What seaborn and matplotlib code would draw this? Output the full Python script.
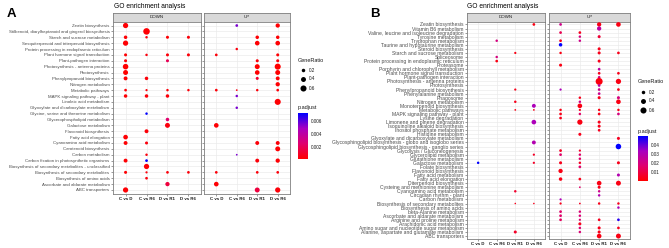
import numpy as np
import pandas as pd
import matplotlib
matplotlib.use("Agg")
import matplotlib.pyplot as plt
import seaborn as sns
from matplotlib.colors import LinearSegmentedColormap, Normalize
from matplotlib.cm import ScalarMappable

plt.rcParams["font.family"] = ["Liberation Sans", "DejaVu Sans"]

comparisons = ["C vs D", "C vs R6", "D vs R1", "D vs R6"]

a_pathways = [
    "Zeatin biosynthesis",
    "Stilbenoid, diarylheptanoid and gingerol biosynthesis",
    "Starch and sucrose metabolism",
    "Sesquiterpenoid and triterpenoid biosynthesis",
    "Protein processing in endoplasmic reticulum",
    "Plant hormone signal transduction",
    "Plant-pathogen interaction",
    "Photosynthesis - antenna proteins",
    "Photosynthesis",
    "Phenylpropanoid biosynthesis",
    "Nitrogen metabolism",
    "Metabolic pathways",
    "MAPK signaling pathway - plant",
    "Linoleic acid metabolism",
    "Glyoxylate and dicarboxylate metabolism",
    "Glycine, serine and threonine metabolism",
    "Glycerophospholipid metabolism",
    "Galactose metabolism",
    "Flavonoid biosynthesis",
    "Fatty acid elongation",
    "Cyanoamino acid metabolism",
    "Carotenoid biosynthesis",
    "Carbon metabolism",
    "Carbon fixation in photosynthetic organisms",
    "Biosynthesis of secondary metabolites - unclassified",
    "Biosynthesis of secondary metabolites",
    "Biosynthesis of amino acids",
    "Ascorbate and aldarate metabolism",
    "ABC transporters",
]

# (pathway, comparison, GeneRatio, p.adjust)
a_down = [
    ("Zeatin biosynthesis", "C vs D", 0.45, 0.0003),
    ("Stilbenoid, diarylheptanoid and gingerol biosynthesis", "C vs R6", 0.7, 0.0003),
    ("Starch and sucrose metabolism", "C vs D", 0.2, 0.0003),
    ("Starch and sucrose metabolism", "C vs R6", 0.1, 0.0005),
    ("Starch and sucrose metabolism", "D vs R1", 0.15, 0.0003),
    ("Starch and sucrose metabolism", "D vs R6", 0.15, 0.0004),
    ("Sesquiterpenoid and triterpenoid biosynthesis", "C vs D", 0.45, 0.0003),
    ("Plant hormone signal transduction", "C vs D", 0.15, 0.0003),
    ("Plant hormone signal transduction", "C vs R6", 0.1, 0.0005),
    ("Plant hormone signal transduction", "D vs R1", 0.15, 0.0004),
    ("Plant hormone signal transduction", "D vs R6", 0.15, 0.0004),
    ("Plant-pathogen interaction", "C vs D", 0.15, 0.0003),
    ("Plant-pathogen interaction", "D vs R1", 0.15, 0.002),
    ("Photosynthesis - antenna proteins", "C vs D", 0.5, 0.0002),
    ("Photosynthesis", "C vs D", 0.4, 0.0002),
    ("Phenylpropanoid biosynthesis", "C vs D", 0.25, 0.0003),
    ("Phenylpropanoid biosynthesis", "C vs R6", 0.2, 0.0004),
    ("Metabolic pathways", "C vs D", 0.12, 0.0003),
    ("Metabolic pathways", "C vs R6", 0.08, 0.0004),
    ("Metabolic pathways", "D vs R1", 0.1, 0.0004),
    ("Metabolic pathways", "D vs R6", 0.1, 0.0004),
    ("MAPK signaling pathway - plant", "C vs D", 0.2, 0.0003),
    ("MAPK signaling pathway - plant", "C vs R6", 0.2, 0.0004),
    ("MAPK signaling pathway - plant", "D vs R1", 0.2, 0.0004),
    ("Glycine, serine and threonine metabolism", "C vs R6", 0.1, 0.0072),
    ("Glycerophospholipid metabolism", "D vs R1", 0.2, 0.0025),
    ("Galactose metabolism", "D vs R1", 0.4, 0.0005),
    ("Flavonoid biosynthesis", "C vs R6", 0.25, 0.0004),
    ("Fatty acid elongation", "C vs D", 0.35, 0.0003),
    ("Cyanoamino acid metabolism", "C vs D", 0.25, 0.0003),
    ("Cyanoamino acid metabolism", "C vs R6", 0.15, 0.0005),
    ("Carbon metabolism", "C vs R6", 0.1, 0.0005),
    ("Carbon fixation in photosynthetic organisms", "C vs D", 0.25, 0.0003),
    ("Carbon fixation in photosynthetic organisms", "C vs R6", 0.12, 0.0072),
    ("Biosynthesis of secondary metabolites - unclassified", "C vs R6", 0.45, 0.0003),
    ("Biosynthesis of secondary metabolites", "C vs D", 0.15, 0.0003),
    ("Biosynthesis of secondary metabolites", "C vs R6", 0.08, 0.0005),
    ("Biosynthesis of secondary metabolites", "D vs R1", 0.12, 0.0004),
    ("Biosynthesis of secondary metabolites", "D vs R6", 0.12, 0.0004),
    ("Biosynthesis of amino acids", "C vs R6", 0.12, 0.0005),
    ("Ascorbate and aldarate metabolism", "D vs R1", 0.3, 0.0015),
    ("ABC transporters", "C vs D", 0.45, 0.0003),
]

a_up = [
    ("Zeatin biosynthesis", "C vs R6", 0.12, 0.0055),
    ("Zeatin biosynthesis", "D vs R6", 0.3, 0.0003),
    ("Starch and sucrose metabolism", "D vs R1", 0.2, 0.0003),
    ("Starch and sucrose metabolism", "D vs R6", 0.2, 0.0003),
    ("Sesquiterpenoid and triterpenoid biosynthesis", "D vs R1", 0.35, 0.0003),
    ("Sesquiterpenoid and triterpenoid biosynthesis", "D vs R6", 0.35, 0.0003),
    ("Protein processing in endoplasmic reticulum", "C vs R6", 0.1, 0.0005),
    ("Plant hormone signal transduction", "C vs D", 0.12, 0.0004),
    ("Plant hormone signal transduction", "D vs R6", 0.15, 0.0003),
    ("Plant-pathogen interaction", "D vs R1", 0.15, 0.0004),
    ("Plant-pathogen interaction", "D vs R6", 0.15, 0.0004),
    ("Photosynthesis - antenna proteins", "D vs R1", 0.4, 0.0002),
    ("Photosynthesis - antenna proteins", "D vs R6", 0.6, 0.0002),
    ("Photosynthesis", "D vs R1", 0.35, 0.0002),
    ("Photosynthesis", "D vs R6", 0.4, 0.0002),
    ("Phenylpropanoid biosynthesis", "D vs R1", 0.15, 0.0012),
    ("Phenylpropanoid biosynthesis", "D vs R6", 0.25, 0.0003),
    ("Nitrogen metabolism", "D vs R6", 0.3, 0.0003),
    ("Metabolic pathways", "C vs D", 0.12, 0.0004),
    ("Metabolic pathways", "C vs R6", 0.05, 0.0006),
    ("Metabolic pathways", "D vs R1", 0.1, 0.0004),
    ("Metabolic pathways", "D vs R6", 0.12, 0.0004),
    ("MAPK signaling pathway - plant", "C vs R6", 0.1, 0.0055),
    ("Linoleic acid metabolism", "D vs R6", 0.6, 0.0003),
    ("Glyoxylate and dicarboxylate metabolism", "C vs R6", 0.1, 0.0055),
    ("Galactose metabolism", "C vs D", 0.35, 0.0003),
    ("Cyanoamino acid metabolism", "D vs R1", 0.25, 0.0004),
    ("Cyanoamino acid metabolism", "D vs R6", 0.25, 0.0004),
    ("Carotenoid biosynthesis", "D vs R6", 0.4, 0.0003),
    ("Carbon metabolism", "C vs R6", 0.05, 0.0055),
    ("Carbon fixation in photosynthetic organisms", "D vs R1", 0.25, 0.0004),
    ("Carbon fixation in photosynthetic organisms", "D vs R6", 0.3, 0.0003),
    ("Biosynthesis of secondary metabolites", "C vs D", 0.12, 0.0004),
    ("Biosynthesis of secondary metabolites", "D vs R1", 0.12, 0.0004),
    ("Biosynthesis of secondary metabolites", "D vs R6", 0.12, 0.0004),
    ("Ascorbate and aldarate metabolism", "C vs D", 0.35, 0.0003),
    ("ABC transporters", "D vs R1", 0.4, 0.0015),
    ("ABC transporters", "D vs R6", 0.45, 0.0004),
]

b_pathways = [
    "Zeatin biosynthesis",
    "Vitamin B6 metabolism",
    "Valine, leucine and isoleucine degradation",
    "Tyrosine metabolism",
    "Tryptophan metabolism",
    "Taurine and hypotaurine metabolism",
    "Steroid biosynthesis",
    "Starch and sucrose metabolism",
    "Spliceosome",
    "Protein processing in endoplasmic reticulum",
    "Proteasome",
    "Porphyrin and chlorophyll metabolism",
    "Plant hormone signal transduction",
    "Plant-pathogen interaction",
    "Photosynthesis - antenna proteins",
    "Photosynthesis",
    "Phenylpropanoid biosynthesis",
    "Phenylalanine metabolism",
    "Phagosome",
    "Nitrogen metabolism",
    "Monoterpenoid biosynthesis",
    "Metabolic pathways",
    "MAPK signaling pathway - plant",
    "Lysine degradation",
    "Limonene and pinene degradation",
    "Isoquinoline alkaloid biosynthesis",
    "Inositol phosphate metabolism",
    "Histidine metabolism",
    "Glyoxylate and dicarboxylate metabolism",
    "Glycosphingolipid biosynthesis - globo and isoglobo series",
    "Glycosphingolipid biosynthesis - ganglio series",
    "Glycolysis / Gluconeogenesis",
    "Glycerolipid metabolism",
    "Glutathione metabolism",
    "Galactose metabolism",
    "Folate biosynthesis",
    "Flavonoid biosynthesis",
    "Fatty acid metabolism",
    "Fatty acid elongation",
    "Diterpenoid biosynthesis",
    "Cysteine and methionine metabolism",
    "Cyanoamino acid metabolism",
    "Circadian rhythm - plant",
    "Carbon metabolism",
    "Biosynthesis of secondary metabolites",
    "Biosynthesis of amino acids",
    "beta-Alanine metabolism",
    "Ascorbate and aldarate metabolism",
    "Arginine and proline metabolism",
    "Arachidonic acid metabolism",
    "Amino sugar and nucleotide sugar metabolism",
    "Alanine, aspartate and glutamate metabolism",
    "ABC transporters",
]

b_down = [
    ("Zeatin biosynthesis", "D vs R6", 0.12, 0.003),
    ("Tryptophan metabolism", "C vs R6", 0.1, 0.02),
    ("Starch and sucrose metabolism", "D vs R1", 0.08, 0.003),
    ("Spliceosome", "C vs R6", 0.1, 0.02),
    ("Protein processing in endoplasmic reticulum", "C vs R6", 0.12, 0.003),
    ("Phenylpropanoid biosynthesis", "D vs R1", 0.08, 0.004),
    ("Nitrogen metabolism", "D vs R1", 0.1, 0.004),
    ("Monoterpenoid biosynthesis", "D vs R6", 0.25, 0.032),
    ("Metabolic pathways", "D vs R1", 0.05, 0.003),
    ("Metabolic pathways", "D vs R6", 0.05, 0.003),
    ("Limonene and pinene degradation", "D vs R6", 0.35, 0.032),
    ("Glycosphingolipid biosynthesis - globo and isoglobo series", "D vs R6", 0.25, 0.03),
    ("Glycerolipid metabolism", "D vs R6", 0.08, 0.006),
    ("Galactose metabolism", "C vs D", 0.1, 0.05),
    ("Galactose metabolism", "D vs R6", 0.08, 0.006),
    ("Cyanoamino acid metabolism", "D vs R1", 0.1, 0.007),
    ("Biosynthesis of secondary metabolites", "D vs R1", 0.04, 0.004),
    ("Biosynthesis of secondary metabolites", "D vs R6", 0.04, 0.004),
    ("Alanine, aspartate and glutamate metabolism", "D vs R1", 0.15, 0.006),
]

b_up = [
    ("Zeatin biosynthesis", "C vs D", 0.12, 0.022),
    ("Valine, leucine and isoleucine degradation", "C vs D", 0.12, 0.012),
    ("Tryptophan metabolism", "C vs D", 0.12, 0.004),
    ("Taurine and hypotaurine metabolism", "C vs D", 0.2, 0.05),
    ("Starch and sucrose metabolism", "C vs D", 0.1, 0.003),
    ("Proteasome", "C vs D", 0.15, 0.003),
    ("Phenylpropanoid biosynthesis", "C vs D", 0.08, 0.032),
    ("Metabolic pathways", "C vs D", 0.1, 0.003),
    ("MAPK signaling pathway - plant", "C vs D", 0.12, 0.004),
    ("Lysine degradation", "C vs D", 0.12, 0.004),
    ("Glycolysis / Gluconeogenesis", "C vs D", 0.12, 0.005),
    ("Glycerolipid metabolism", "C vs D", 0.12, 0.016),
    ("Galactose metabolism", "C vs D", 0.15, 0.004),
    ("Flavonoid biosynthesis", "C vs D", 0.3, 0.003),
    ("Fatty acid elongation", "C vs D", 0.2, 0.003),
    ("Carbon metabolism", "C vs D", 0.08, 0.032),
    ("Biosynthesis of secondary metabolites", "C vs D", 0.08, 0.004),
    ("beta-Alanine metabolism", "C vs D", 0.12, 0.016),
    ("Ascorbate and aldarate metabolism", "C vs D", 0.12, 0.016),
    ("Arginine and proline metabolism", "C vs D", 0.12, 0.014),
    ("Valine, leucine and isoleucine degradation", "C vs R6", 0.12, 0.004),
    ("Tyrosine metabolism", "C vs R6", 0.1, 0.02),
    ("Tryptophan metabolism", "C vs R6", 0.1, 0.022),
    ("Phagosome", "C vs R6", 0.1, 0.004),
    ("Nitrogen metabolism", "C vs R6", 0.1, 0.022),
    ("Monoterpenoid biosynthesis", "C vs R6", 0.35, 0.003),
    ("Metabolic pathways", "C vs R6", 0.08, 0.004),
    ("MAPK signaling pathway - plant", "C vs R6", 0.1, 0.016),
    ("Limonene and pinene degradation", "C vs R6", 0.45, 0.003),
    ("Histidine metabolism", "C vs R6", 0.15, 0.004),
    ("Glycolysis / Gluconeogenesis", "C vs R6", 0.08, 0.006),
    ("Glycerolipid metabolism", "C vs R6", 0.1, 0.016),
    ("Glutathione metabolism", "C vs R6", 0.1, 0.016),
    ("Galactose metabolism", "C vs R6", 0.1, 0.005),
    ("Folate biosynthesis", "C vs R6", 0.12, 0.016),
    ("Fatty acid elongation", "C vs R6", 0.12, 0.004),
    ("Cysteine and methionine metabolism", "C vs R6", 0.05, 0.016),
    ("Biosynthesis of secondary metabolites", "C vs R6", 0.05, 0.005),
    ("beta-Alanine metabolism", "C vs R6", 0.1, 0.018),
    ("Ascorbate and aldarate metabolism", "C vs R6", 0.1, 0.018),
    ("Arginine and proline metabolism", "C vs R6", 0.08, 0.018),
    ("Arachidonic acid metabolism", "C vs R6", 0.15, 0.004),
    ("Amino sugar and nucleotide sugar metabolism", "C vs R6", 0.1, 0.018),
    ("Alanine, aspartate and glutamate metabolism", "C vs R6", 0.1, 0.018),
    ("Zeatin biosynthesis", "D vs R1", 0.3, 0.003),
    ("Vitamin B6 metabolism", "D vs R1", 0.3, 0.027),
    ("Tyrosine metabolism", "D vs R1", 0.15, 0.008),
    ("Steroid biosynthesis", "D vs R1", 0.15, 0.004),
    ("Starch and sucrose metabolism", "D vs R1", 0.15, 0.004),
    ("Protein processing in endoplasmic reticulum", "D vs R1", 0.15, 0.004),
    ("Porphyrin and chlorophyll metabolism", "D vs R1", 0.12, 0.027),
    ("Plant hormone signal transduction", "D vs R1", 0.12, 0.004),
    ("Plant-pathogen interaction", "D vs R1", 0.12, 0.02),
    ("Photosynthesis - antenna proteins", "D vs R1", 0.8, 0.002),
    ("Photosynthesis", "D vs R1", 0.12, 0.027),
    ("Phenylpropanoid biosynthesis", "D vs R1", 0.12, 0.022),
    ("Phenylalanine metabolism", "D vs R1", 0.12, 0.024),
    ("Phagosome", "D vs R1", 0.15, 0.004),
    ("Metabolic pathways", "D vs R1", 0.1, 0.003),
    ("MAPK signaling pathway - plant", "D vs R1", 0.12, 0.004),
    ("Limonene and pinene degradation", "D vs R1", 0.15, 0.004),
    ("Isoquinoline alkaloid biosynthesis", "D vs R1", 0.15, 0.004),
    ("Inositol phosphate metabolism", "D vs R1", 0.12, 0.005),
    ("Diterpenoid biosynthesis", "D vs R1", 0.35, 0.003),
    ("Cysteine and methionine metabolism", "D vs R1", 0.15, 0.004),
    ("Cyanoamino acid metabolism", "D vs R1", 0.1, 0.022),
    ("Circadian rhythm - plant", "D vs R1", 0.1, 0.03),
    ("Biosynthesis of secondary metabolites", "D vs R1", 0.1, 0.004),
    ("Arginine and proline metabolism", "D vs R1", 0.12, 0.005),
    ("Amino sugar and nucleotide sugar metabolism", "D vs R1", 0.15, 0.004),
    ("Alanine, aspartate and glutamate metabolism", "D vs R1", 0.15, 0.004),
    ("ABC transporters", "D vs R1", 0.35, 0.003),
    ("Zeatin biosynthesis", "D vs R6", 0.35, 0.003),
    ("Starch and sucrose metabolism", "D vs R6", 0.12, 0.004),
    ("Plant hormone signal transduction", "D vs R6", 0.12, 0.004),
    ("Photosynthesis - antenna proteins", "D vs R6", 0.45, 0.003),
    ("Phenylpropanoid biosynthesis", "D vs R6", 0.12, 0.004),
    ("Phagosome", "D vs R6", 0.15, 0.02),
    ("Nitrogen metabolism", "D vs R6", 0.35, 0.003),
    ("Metabolic pathways", "D vs R6", 0.1, 0.003),
    ("MAPK signaling pathway - plant", "D vs R6", 0.12, 0.02),
    ("Glyoxylate and dicarboxylate metabolism", "D vs R6", 0.15, 0.005),
    ("Glycosphingolipid biosynthesis - ganglio series", "D vs R6", 0.5, 0.05),
    ("Galactose metabolism", "D vs R6", 0.15, 0.004),
    ("Fatty acid metabolism", "D vs R6", 0.15, 0.03),
    ("Diterpenoid biosynthesis", "D vs R6", 0.4, 0.003),
    ("Biosynthesis of secondary metabolites", "D vs R6", 0.1, 0.004),
    ("Biosynthesis of amino acids", "D vs R6", 0.1, 0.032),
    ("Arginine and proline metabolism", "D vs R6", 0.12, 0.046),
    ("Amino sugar and nucleotide sugar metabolism", "D vs R6", 0.12, 0.004),
    ("ABC transporters", "D vs R6", 0.4, 0.003),
]

W, H = 669, 248
fig = plt.figure(figsize=(W / 100, H / 100), dpi=100)
cmap = LinearSegmentedColormap.from_list("padj", ["#FF0000", "#E0006E", "#A800C0", "#0000FF"])
SIZE_K = 31.75  # marker area per unit GeneRatio


def box(x0, y0, x1, y1):
    return [x0 / W, 1 - y1 / H, (x1 - x0) / W, (y1 - y0) / H]


def to_df(rows, pathways):
    df = pd.DataFrame(rows, columns=["pathway", "comparison", "GeneRatio", "p.adjust"])
    df["x"] = pd.Categorical(df["comparison"], categories=comparisons).codes
    df["y"] = pd.Categorical(df["pathway"], categories=pathways).codes
    return df


def facet(rows, pathways, name, x0, x1, y_top, y_bot, norm, ylab_size, show_y):
    strip = fig.add_axes(box(x0, y_top - 9, x1, y_top))
    strip.set_facecolor("#D9D9D9")
    strip.set_xticks([]); strip.set_yticks([])
    for s in strip.spines.values():
        s.set_color("#7F7F7F"); s.set_linewidth(0.6)
    strip.text(0.5, 0.5, name, ha="center", va="center", fontsize=3.2, color="#1A1A1A")

    ax = fig.add_axes(box(x0, y_top, x1, y_bot))
    df = to_df(rows, pathways)
    sns.scatterplot(data=df, x="x", y="y", hue="p.adjust", size="GeneRatio",
                    palette=cmap, hue_norm=norm, sizes=(0, SIZE_K * 0.8), size_norm=(0, 0.8),
                    legend=False, ax=ax, linewidth=0, zorder=3)
    n = len(pathways)
    ax.set_xlim(-0.6, 3.6)
    ax.set_ylim(n - 0.4, -0.6)
    ax.set_xticks(range(4))
    ax.set_xticklabels(comparisons, fontsize=3.2, color="#1A1A1A", fontweight="bold")
    ax.set_yticks(range(n))
    if show_y:
        ax.set_yticklabels(pathways, fontsize=ylab_size, color="#4D4D4D")
    else:
        ax.set_yticklabels([])
    ax.set_xlabel(""); ax.set_ylabel("")
    ax.tick_params(length=1.5, width=0.4, color="#4D4D4D", pad=1)
    ax.grid(True, color="#EBEBEB", lw=0.5)
    ax.set_axisbelow(True)
    for s in ax.spines.values():
        s.set_color("#7F7F7F"); s.set_linewidth(0.6)
    return ax


def legends(x, y_size, y_col, col_bot, norm, ticks, tick_fmt):
    fig.text(x / W, 1 - y_size / H, "GeneRatio", fontsize=4.0, color="#1A1A1A", va="center")
    for i, v in enumerate([0.2, 0.4, 0.6]):
        lax_y = y_size + 10 + i * 9
        lax = fig.add_axes(box(x + 1, lax_y - 4, x + 9, lax_y + 4))
        lax.axis("off")
        lax.scatter([0], [0], s=SIZE_K * v, color="black", linewidths=0)
        lax.set_xlim(-1, 1); lax.set_ylim(-1, 1)
        fig.text((x + 11) / W, 1 - lax_y / H, f"{v}", fontsize=3.3, color="#1A1A1A", va="center")
    fig.text(x / W, 1 - y_col / H, "p.adjust", fontsize=4.0, color="#1A1A1A", va="center")
    cax = fig.add_axes(box(x, y_col + 5, x + 10, col_bot))
    cb = fig.colorbar(ScalarMappable(norm=norm, cmap=cmap), cax=cax)
    cb.outline.set_visible(False)
    cb.set_ticks(ticks)
    cb.set_ticklabels([tick_fmt.format(t) for t in ticks])
    cax.tick_params(labelsize=3.3, length=0, pad=2, labelcolor="#1A1A1A")


# panel A
norm_a = Normalize(0.0002, 0.0072)
facet(a_down, a_pathways, "DOWN", 113, 201, 22, 193.5, norm_a, 3.2, True)
facet(a_up, a_pathways, "UP", 204, 290, 22, 193.5, norm_a, 3.2, False)
legends(298, 60, 108, 159, norm_a, [0.002, 0.004, 0.006], "{:.3f}")
fig.text(114 / W, 1 - 6 / H, "GO enrichment analysis", fontsize=4.8, va="center")
fig.text(7 / W, 1 - 14 / H, "A", fontsize=9.5, fontweight="bold", va="center")

# panel B
norm_b = Normalize(0.0, 0.05)
facet(b_down, b_pathways, "DOWN", 467, 545, 22, 238.5, norm_b, 3.6, True)
facet(b_up, b_pathways, "UP", 549, 630, 22, 238.5, norm_b, 3.6, False)
legends(638, 82, 131, 181, norm_b, [0.01, 0.02, 0.03, 0.04], "{:.2f}")
fig.text(467 / W, 1 - 6 / H, "GO enrichment analysis", fontsize=4.8, va="center")
fig.text(370 / W, 1 - 14 / H, "B", fontsize=9.5, fontweight="bold", va="center")

fig.savefig("out.png", dpi=100, facecolor="white")
